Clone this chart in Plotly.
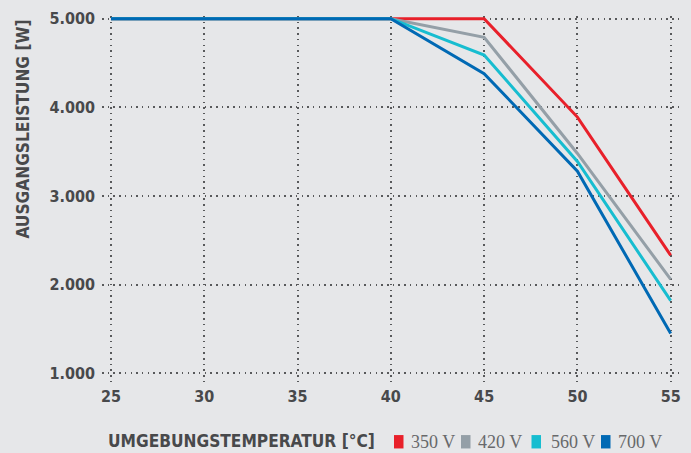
import plotly.graph_objects as go

temps = [25, 30, 35, 40, 45, 50, 55]
p_350 = [5000, 5000, 5000, 5000, 5000, 3890, 2330]
p_420 = [5000, 5000, 5000, 5000, 4790, 3480, 2060]
p_560 = [5000, 5000, 5000, 5000, 4590, 3390, 1820]
p_700 = [5000, 5000, 5000, 5000, 4380, 3280, 1450]
series_names = ["350 V", "420 V", "560 V", "700 V"]
series_vals = [p_350, p_420, p_560, p_700]
colors = ["#e8202a", "#949fa7", "#17bdd0", "#0069b4"]

x_ticks = [25, 30, 35, 40, 45, 50, 55]
y_ticks = [1000, 2000, 3000, 4000, 5000]

W, H = 691, 453
ML, MR, MT, MB = 102, 9, 13, 71
PW, PH = W - ML - MR, H - MT - MB

BG = "#e6e7e9"
TXT = "#48494b"
SANS = "DejaVu Sans Condensed, DejaVu Sans, sans-serif"
SERIF = "Liberation Serif, DejaVu Serif, serif"

def px_x(px):
    return (px - ML) / PW

def px_y(py):
    return (H - MB - py) / PH

fig = go.Figure()
for name, vals, col in zip(series_names, series_vals, colors):
    fig.add_trace(go.Scatter(x=temps, y=vals, mode="lines", name=name,
                             line=dict(color=col, width=3), showlegend=False))

annotations = [
    dict(text="UMGEBUNGSTEMPERATUR [°C]", xref="paper", yref="paper",
         x=px_x(106), y=px_y(441), xanchor="left", yanchor="middle", showarrow=False,
         font=dict(family=SANS, size=17.2, color=TXT, weight="bold")),
    dict(text="AUSGANGSLEISTUNG [W]", xref="paper", yref="paper",
         x=px_x(23), y=px_y(127.5), xanchor="center", yanchor="middle", showarrow=False,
         textangle=-90, font=dict(family=SANS, size=17.2, color=TXT, weight="bold")),
]
shapes = []
legend_sq_left = [394, 461, 531.5, 601]
legend_txt_left = [409, 476, 548.5, 616]
for name, col, sx, tx in zip(series_names, colors, legend_sq_left, legend_txt_left):
    shapes.append(dict(type="rect", xref="paper", yref="paper",
                       x0=px_x(sx), x1=px_x(sx + 9.5), y0=px_y(449), y1=px_y(435.5),
                       fillcolor=col, line=dict(width=0)))
    annotations.append(dict(text=name, xref="paper", yref="paper",
                            x=px_x(tx), y=px_y(442), xanchor="left", yanchor="middle",
                            showarrow=False,
                            font=dict(family=SERIF, size=18, color="#68696b")))

grid = dict(showgrid=True, gridcolor="#58595b", gridwidth=1.5, griddash="1.5px,4.2px",
            zeroline=False, showline=False, ticks="")

fig.update_layout(
    width=W, height=H,
    margin=dict(l=ML, r=MR, t=MT, b=MB, pad=0),
    paper_bgcolor=BG, plot_bgcolor=BG,
    separators=",.",
    showlegend=False,
    xaxis=dict(range=[24.518, 55.606], tickvals=x_ticks, ticklabelstandoff=3,
               tickfont=dict(family=SANS, size=16, color=TXT, weight="bold"), **grid),
    yaxis=dict(range=[902.7, 5030], tickvals=y_ticks, tickformat=",d", ticklabelstandoff=6,
               tickfont=dict(family=SANS, size=16, color=TXT, weight="bold"), **grid),
    annotations=annotations, shapes=shapes,
)

fig.write_html("out.html", config={"displayModeBar": False},
               post_script="document.body.style.margin='0';")
